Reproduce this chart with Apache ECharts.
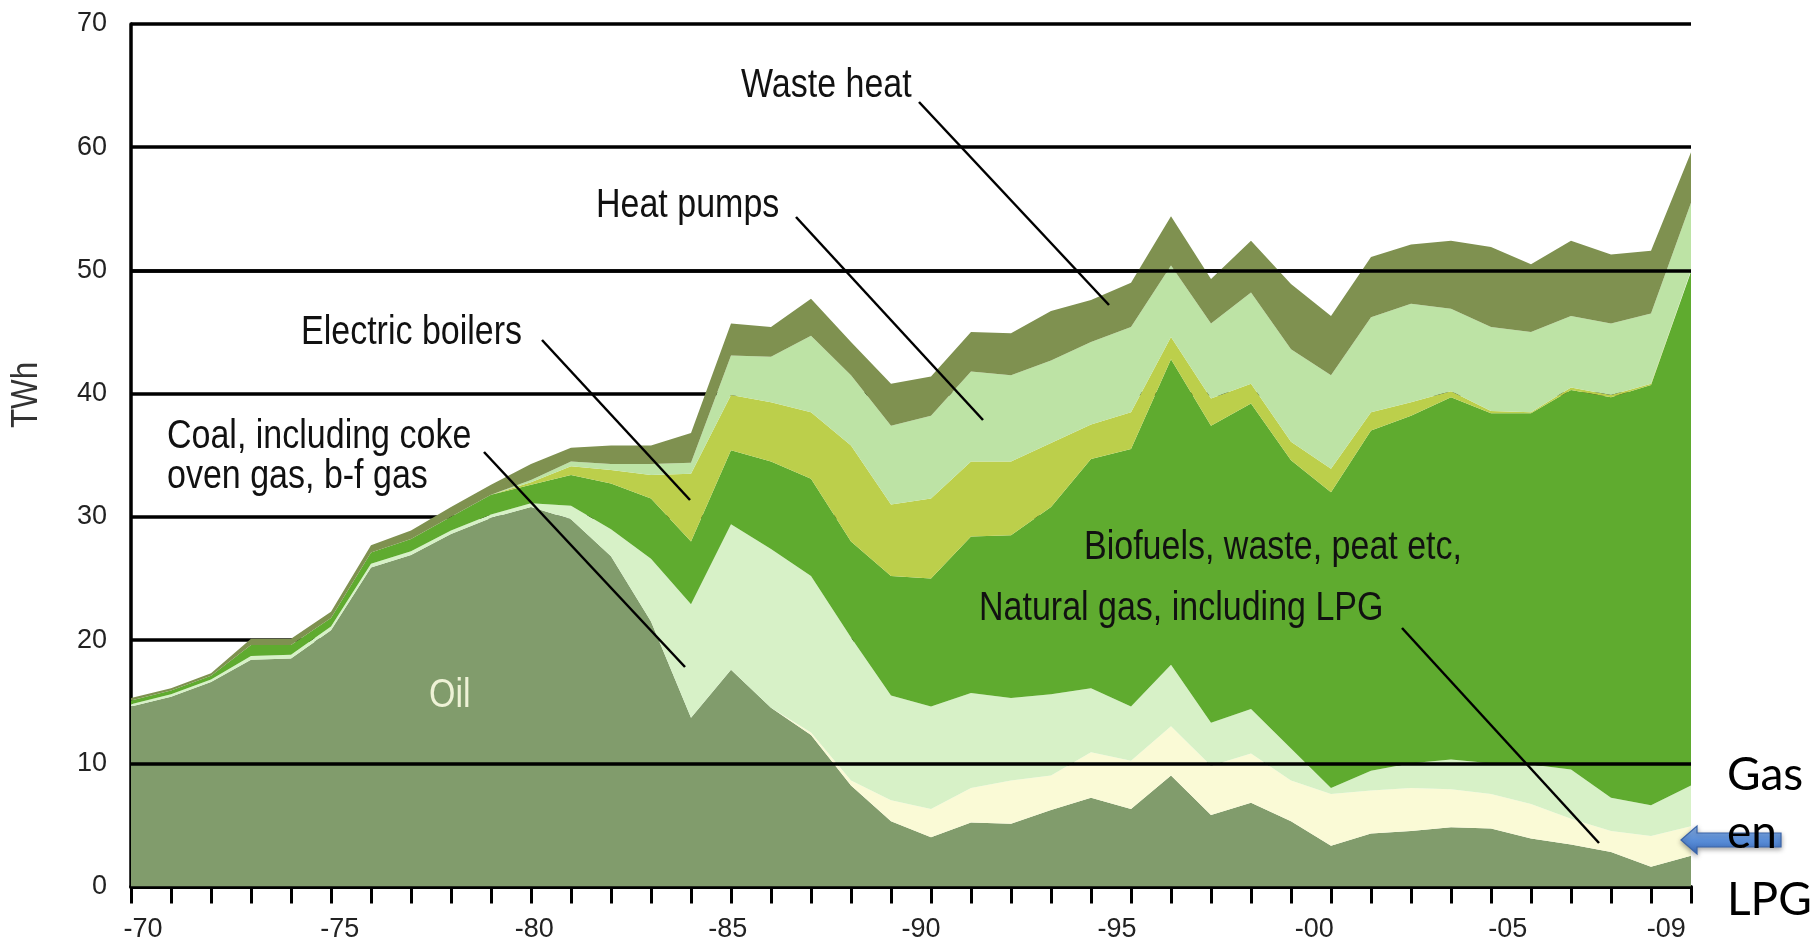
<!DOCTYPE html>
<html><head><meta charset="utf-8">
<script src="https://cdn.jsdelivr.net/npm/echarts@6/dist/echarts.min.js"></script>
<style>html,body{margin:0;padding:0;background:#fff}#c{width:1814px;height:944px}</style>
</head><body><div id="c"></div>
<script>
// ---- data (TWh) ----
const years = [1970,1971,1972,1973,1974,1975,1976,1977,1978,1979,
               1980,1981,1982,1983,1984,1985,1986,1987,1988,1989,
               1990,1991,1992,1993,1994,1995,1996,1997,1998,1999,
               2000,2001,2002,2003,2004,2005,2006,2007,2008,2009];
const oil   = [14.6,15.4,16.6,18.4,18.5,20.8,25.9,26.9,28.6,29.9, 30.8,29.8,26.8,21.5,13.7,17.6,14.5,12.3,8.2,5.3, 4.0,5.2,5.1,6.2,7.2,6.3,9.0,5.8,6.8,5.3, 3.3,4.3,4.5,4.8,4.7,3.9,3.4,2.8,1.6,2.5];
const gas   = [0,0,0,0,0,0,0,0,0,0, 0,0,0,0,0,0,0,0.2,0.4,1.7, 2.3,2.8,3.5,2.8,3.7,3.9,4.0,4.0,4.0,3.3, 4.2,3.5,3.5,3.1,2.8,2.8,2.1,1.7,2.5,2.4];
const coal  = [0.2,0.2,0.2,0.3,0.3,0.3,0.3,0.3,0.3,0.3, 0.3,1.1,2.2,5.1,9.2,11.8,12.9,12.7,11.6,8.5, 8.3,7.7,6.7,6.6,5.2,4.4,5.0,3.5,3.6,2.6, 0.5,1.6,2.0,2.4,2.5,3.2,4.0,2.7,2.5,3.3];
const bio   = [0.3,0.3,0.3,0.9,0.8,0.7,0.9,1.0,1.1,1.6, 1.5,2.5,3.7,4.9,5.1,6.0,7.1,7.9,7.8,9.7, 10.4,12.7,13.2,15.2,18.6,20.9,24.8,24.1,24.8,23.4, 24.0,27.6,28.2,29.4,28.4,28.5,30.8,32.5,34.1,41.7];
const elec  = [0,0,0,0,0,0,0,0,0,0, 0.2,0.7,1.1,1.9,5.5,4.5,4.8,5.4,7.8,5.8, 6.5,6.1,6.0,5.2,2.8,3.0,1.8,2.2,1.6,1.5, 1.9,1.5,1.1,0.5,0.2,0.1,0.2,0.2,0.1,0.1];
const hpump = [0,0,0,0,0,0,0,0,0,0, 0.2,0.4,0.5,0.9,0.9,3.2,3.7,6.2,5.7,6.4, 6.7,7.3,7.0,6.7,6.7,6.9,5.8,6.1,7.4,7.5, 7.6,7.7,8.0,6.7,6.8,6.5,5.8,5.8,5.7,5.5];
const waste = [0.2,0.2,0.2,0.5,0.5,0.5,0.6,0.7,0.8,0.8, 1.3,1.1,1.5,1.5,2.4,2.6,2.4,3.0,2.7,3.4, 3.2,3.2,3.4,4.0,3.4,3.6,4.0,3.6,4.2,5.3, 4.8,4.9,4.8,5.5,6.5,5.5,6.1,5.6,5.1,4.1];
const xTickLabels = ['-70','-75','-80','-85','-90','-95','-00','-05','-09'];
const seriesNames = ['Oil','Natural gas, including LPG','Coal, including coke oven gas, b-f gas','Biofuels, waste, peat etc','Electric boilers','Heat pumps','Waste heat'];

// ---- layout (where the x labels sit, in axis units) ----
const xLabelAt = [1970.30,1975.22,1980.08,1984.92,1989.75,1994.65,1999.58,2004.42,2008.38];
const colors = ['#819c6c','#fafad6','#d7f1c7','#5fab2f','#bccf4b','#bde3a5','#7f9150'];

const chart = echarts.init(document.getElementById('c'), null, {renderer:'canvas'});
const layers = [oil,gas,coal,bio,elec,hpump,waste];
const series = layers.map((arr,k)=>({
  name: seriesNames[k], type:'line', stack:'total', symbol:'none', smooth:false,
  lineStyle:{width:0}, areaStyle:{color:colors[k], opacity:1}, itemStyle:{color:colors[k]},
  dimensions:['value','year'], encode:{x:'year', y:'value'},
  data: years.map((y,i)=>[arr[i], y]), animation:false, silent:true
}));
series[series.length-1].markLine = {
  silent:true, symbol:['none','none'], animation:false, label:{show:false},
  lineStyle:{color:'#000', width:3.5, type:'solid'},
  data:[{yAxis:10},{yAxis:50}]
};

const annFont = '40px "Liberation Sans", Arial, sans-serif';
function txt(text,x,y,opts){
  return Object.assign({type:'text', x:x, y:y, scaleX:0.85, z:100,
    style:{text:text, fill:'#111', font:annFont, textAlign:'left', textVerticalAlign:'middle', align:'left', verticalAlign:'middle'}}, opts||{});
}
function ln(x1,y1,x2,y2){
  return {type:'line', z:100, shape:{x1:x1,y1:y1,x2:x2,y2:y2}, style:{stroke:'#000', lineWidth:2.5}};
}

const option = {
  backgroundColor:'#fff',
  animation:false,
  grid:{left:131, right:123, top:24, bottom:57.5, containLabel:false},
  xAxis:{
    type:'value', min:1970, max:2009,
    axisLine:{show:true, onZero:false, lineStyle:{color:'#000', width:4}},
    axisTick:{show:true, length:17, lineStyle:{color:'#000', width:3}, customValues: years},
    axisLabel:{show:true, margin:30, fontSize:27, color:'#222', fontFamily:'"Liberation Sans", Arial, sans-serif',
      customValues: xLabelAt,
      formatter:function(v){ const i = xLabelAt.findIndex(p=>Math.abs(p-v)<0.005); return i>=0 ? xTickLabels[i] : ''; }},
    splitLine:{show:false}
  },
  yAxis:{
    type:'value', min:0, max:70, interval:10,
    axisLine:{show:true, lineStyle:{color:'#000', width:3.5}},
    axisTick:{show:false},
    axisLabel:{margin:24, fontSize:27, color:'#222', fontFamily:'"Liberation Sans", Arial, sans-serif', padding:[0,0,8,0]},
    splitLine:{show:true, lineStyle:{color:'#000', width:3.5}}
  },
  series: series,
  graphic:[
    {type:'text', x:27, y:395, rotation:Math.PI/2, scaleX:0.87, z:100,
      style:{text:'TWh', fill:'#333', font:'36px "Liberation Sans", Arial, sans-serif', textAlign:'center', textVerticalAlign:'middle', align:'center', verticalAlign:'middle'}},
    txt('Waste heat', 741, 86),
    txt('Heat pumps', 596, 206),
    txt('Electric boilers', 301, 333),
    txt('Coal, including coke', 167, 437),
    txt('oven gas, b-f gas', 167, 477),
    txt('Biofuels, waste, peat etc,', 1084, 548),
    txt('Natural gas, including LPG', 979, 609),
    txt('Oil', 429, 696, {style:{text:'Oil', fill:'#eef2d6', font:annFont, textAlign:'left', textVerticalAlign:'middle', align:'left', verticalAlign:'middle'}}),
    ln(919,102,1109,305),
    ln(796,217,983,420),
    ln(542,340,690,500),
    ln(484,452,685,667),
    ln(1402,628,1599,843),
    {type:'polygon', z:110,
      shape:{points:[[1681,840],[1697,826],[1697,833],[1781,833],[1781,847],[1697,847],[1697,854]]},
      style:{fill:new echarts.graphic.LinearGradient(0,0,0,1,[{offset:0,color:'#8fb6ec'},{offset:0.5,color:'#5a8ed8'},{offset:1,color:'#3c6cbc'}]),
        stroke:'#3a64a8', lineWidth:1.2, shadowBlur:5, shadowColor:'rgba(0,0,0,0.35)', shadowOffsetY:2}},
    {type:'text', x:1727, y:775, z:120, style:{text:'Gas', fill:'#000', font:'46px Lato, "Open Sans", sans-serif', textAlign:'left', textVerticalAlign:'middle', align:'left', verticalAlign:'middle'}},
    {type:'text', x:1727, y:833, z:120, style:{text:'en', fill:'#000', font:'46px Lato, "Open Sans", sans-serif', textAlign:'left', textVerticalAlign:'middle', align:'left', verticalAlign:'middle'}},
    {type:'text', x:1727, y:900, z:120, style:{text:'LPG', fill:'#000', font:'46px Lato, "Open Sans", sans-serif', textAlign:'left', textVerticalAlign:'middle', align:'left', verticalAlign:'middle'}}
  ]
};
chart.setOption(option);
</script>
</body></html>
